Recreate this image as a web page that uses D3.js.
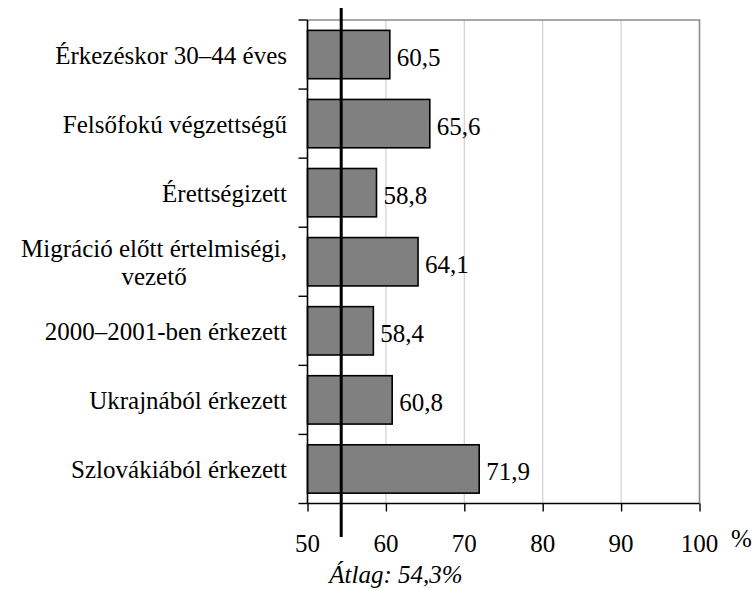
<!DOCTYPE html>
<html>
<head>
<meta charset="utf-8">
<script src="https://cdn.jsdelivr.net/npm/d3@7"></script>
<style>
  html, body { margin: 0; padding: 0; background: #fff; }
  svg { display: block; }
</style>
</head>
<body>
<svg id="chart" width="755" height="589"></svg>
<script>
const categories = [
  ["Érkezéskor 30–44 éves"],
  ["Felsőfokú végzettségű"],
  ["Érettségizett"],
  ["Migráció előtt értelmiségi,", "vezető"],
  ["2000–2001-ben érkezett"],
  ["Ukrajnából érkezett"],
  ["Szlovákiából érkezett"]
];
const values = [60.5, 65.6, 58.8, 64.1, 58.4, 60.8, 71.9];
const valueLabels = ["60,5", "65,6", "58,8", "64,1", "58,4", "60,8", "71,9"];
const xTicks = [50, 60, 70, 80, 90, 100];
const average = 54.3;
const averageLabel = "Átlag: 54,3%";
const unitLabel = "%";

(function () {
const FONT = "'Liberation Serif'";
const svg = d3.select("#chart");
const pLeft = 307.5, pRight = 699.5, pTop = 20, pBottom = 503.5;

const keys = categories.map(c => c.join(" "));
const x = d3.scaleLinear().domain([50, 100]).range([pLeft, pRight]);
const y = d3.scaleBand().domain(keys).range([pTop, pBottom]).paddingInner(0.3).paddingOuter(0.15);

// gridlines
svg.append("g").selectAll("line").data(xTicks.filter(t => t > 50 && t < 100)).join("line")
  .attr("x1", d => x(d)).attr("x2", d => x(d))
  .attr("y1", pTop).attr("y2", pBottom)
  .attr("stroke", "#d0d0d0").attr("stroke-width", 1.2);

// plot frame top & right (grey)
svg.append("path")
  .attr("d", `M${pLeft},${pTop}H${pRight}V${pBottom}`)
  .attr("fill", "none").attr("stroke", "#8c8c8c").attr("stroke-width", 1.6);

// bars
svg.append("g").selectAll("rect").data(values).join("rect")
  .attr("x", x(50))
  .attr("y", (d, i) => y(keys[i]))
  .attr("width", d => x(d) - x(50))
  .attr("height", y.bandwidth())
  .attr("fill", "#808080").attr("stroke", "#000").attr("stroke-width", 1.6);

// x axis
const xAxis = d3.axisBottom(x).tickValues(xTicks).tickSize(8).tickFormat("");
const gx = svg.append("g").attr("transform", `translate(0,${pBottom})`).call(xAxis);
gx.select(".domain").attr("stroke", "#000").attr("stroke-width", 1.6).attr("d", `M${pLeft},0H${pRight}`);
gx.selectAll(".tick line").attr("stroke", "#000").attr("stroke-width", 1.4);
svg.append("g").selectAll("text").data(xTicks).join("text")
  .attr("x", d => x(d)).attr("y", 552)
  .attr("text-anchor", "middle").attr("font-size", 25)
  .style("font-family", FONT)
  .text(d => d);
svg.append("text").attr("x", 731).attr("y", 547).attr("font-size", 25)
  .style("font-family", FONT).text(unitLabel);

// y axis
svg.append("line").attr("x1", pLeft).attr("x2", pLeft).attr("y1", pTop).attr("y2", pBottom)
  .attr("stroke", "#000").attr("stroke-width", 1.6);
const step = y.step();
const boundaries = keys.map(k => y(k) - step * y.paddingInner() / 2).concat([pBottom]);
svg.append("g").selectAll("line").data(boundaries).join("line")
  .attr("x1", pLeft - 9).attr("x2", pLeft)
  .attr("y1", d => d).attr("y2", d => d)
  .attr("stroke", "#000").attr("stroke-width", 1.4);

// category labels
const lab = svg.append("g").selectAll("text").data(categories).join("text")
  .attr("font-size", 25).style("font-family", FONT);
lab.each(function(lines, i) {
  const cy = y(keys[i]) + y.bandwidth() / 2;
  const lh = 28.5;
  const t = d3.select(this);
  lines.forEach((ln, j) => {
    t.append("tspan")
      .attr("y", cy + 9 - (lines.length - 1) * lh / 2 + j * lh)
      .text(ln);
  });
});
lab.each(function(lines) {
  const t = d3.select(this);
  if (lines.length === 1) {
    t.attr("text-anchor", "end");
    t.selectAll("tspan").attr("x", 287);
  } else {
    t.attr("text-anchor", "middle");
    const widths = t.selectAll("tspan").nodes().map(n => n.getComputedTextLength());
    const maxW = Math.max(...widths);
    t.selectAll("tspan").attr("x", 287 - maxW / 2);
  }
});

// value labels
svg.append("g").selectAll("text").data(values).join("text")
  .attr("x", d => x(d) + 7)
  .attr("y", (d, i) => y(keys[i]) + y.bandwidth() / 2 + 11.5)
  .attr("font-size", 25).style("font-family", FONT)
  .text((d, i) => valueLabels[i]);

// average line
svg.append("line")
  .attr("x1", x(average)).attr("x2", x(average))
  .attr("y1", 8).attr("y2", 537)
  .attr("stroke", "#000").attr("stroke-width", 3);
svg.append("text")
  .attr("x", 396).attr("y", 583)
  .attr("text-anchor", "middle").attr("font-size", 25).attr("font-style", "italic")
  .style("font-family", FONT)
  .text(averageLabel);
})();
</script>
</body>
</html>
